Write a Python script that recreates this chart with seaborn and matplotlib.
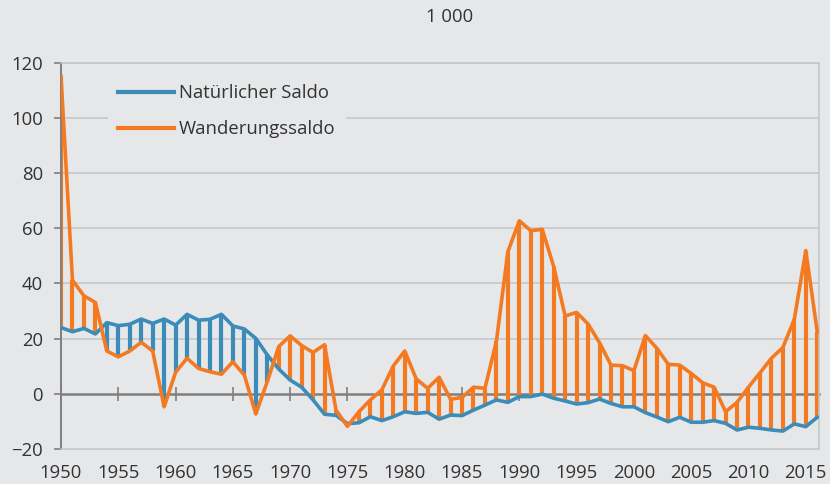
import pandas as pd
import numpy as np
import matplotlib.pyplot as plt
import seaborn as sns

# Werte in 1 000
jahre = list(range(1950, 2017))
natuerlich = [24.0, 22.5, 23.7, 21.7, 25.8, 24.7, 25.2, 27.1, 25.5, 27.1,
              24.9, 28.8, 26.7, 27.0, 28.8, 24.6, 23.5, 20.1, 14.1, 9.0,
              5.0, 2.4, -2.2, -7.4, -7.8, -10.8, -10.5, -8.3, -9.7, -8.3,
              -6.5, -7.1, -6.7, -9.2, -7.7, -7.9, -5.9, -4.1, -2.2, -3.1,
              -1.0, -1.0, -0.1, -1.6, -2.6, -3.7, -3.2, -1.9, -3.5, -4.7,
              -4.7, -6.8, -8.4, -10.1, -8.5, -10.3, -10.3, -9.7, -10.7, -13.1,
              -12.1, -12.5, -13.1, -13.5, -10.9, -11.9, -8.5]
wanderung = [115.0, 41.2, 35.5, 33.1, 15.5, 13.4, 15.5, 18.7, 15.5, -4.7,
             7.8, 12.9, 9.2, 8.0, 7.1, 11.6, 6.8, -7.3, 4.4, 17.1,
             21.0, 17.5, 15.0, 17.8, -5.9, -11.8, -6.5, -2.2, 1.4, 10.1,
             15.5, 5.4, 2.0, 6.0, -2.0, -1.3, 2.4, 2.0, 19.1, 51.5,
             62.7, 59.1, 59.6, 46.1, 28.2, 29.5, 25.3, 18.5, 10.4, 10.2,
             8.4, 21.1, 16.5, 10.7, 10.4, 7.4, 4.0, 2.4, -6.5, -3.1,
             2.4, 7.6, 12.9, 16.8, 27.0, 51.9, 22.5]

reihen = ['Natürlicher Saldo', 'Wanderungssaldo']
blau = '#3b8cb9'
orange = '#f47a22'
hintergrund = '#e6e7e9'
text_farbe = '#333333'
fs = 13.3

df = pd.DataFrame({'Jahr': jahre, reihen[0]: natuerlich, reihen[1]: wanderung})
df_long = df.melt(id_vars='Jahr', var_name='Reihe', value_name='Wert')

plt.rcParams['font.family'] = ['Open Sans', 'DejaVu Sans']

fig = plt.figure(figsize=(8.3, 4.84), dpi=100, facecolor=hintergrund)
ax = fig.add_axes([0.0735, 0.0723, 0.9132, 0.7982], facecolor=hintergrund)

# Verbindungslinien, gefärbt nach der jeweils größeren Reihe
oben = np.maximum(df[reihen[0]], df[reihen[1]])
unten = np.minimum(df[reihen[0]], df[reihen[1]])
farben = np.where(df[reihen[1]] >= df[reihen[0]], orange, blau)
ax.vlines(df['Jahr'], unten, oben, colors=farben, linewidth=3.0, zorder=2)

sns.lineplot(data=df_long, x='Jahr', y='Wert', hue='Reihe', palette=[blau, orange],
             linewidth=2.6, ax=ax, zorder=3)

ax.set_xlim(1950, 2016.15)
ax.set_ylim(-20, 120)
ax.set_yticks(range(-20, 121, 20))
ax.set_xticks(range(1950, 2016, 5))
ax.set_xlabel('')
ax.set_ylabel('')

# Gitterlinien
for y in range(20, 121, 20):
    ax.axhline(y, color='#c4c5c8', linewidth=1.1, zorder=0)

# Rahmen
for s in ['top', 'right', 'bottom']:
    ax.spines[s].set_color('#c4c5c8')
    ax.spines[s].set_linewidth(1.1)
ax.spines['left'].set_color('#7f7f7f')
ax.spines['left'].set_linewidth(1.4)
ax.tick_params(axis='y', length=5, width=1.2, color='#7f7f7f', labelsize=fs,
               labelcolor=text_farbe, pad=8)
ax.tick_params(axis='x', length=0, labelsize=fs, labelcolor=text_farbe, pad=11)

# Nulllinie mit Jahresmarken
null_achse = ax.secondary_xaxis(20 / 140)
null_achse.set_xticks(range(1950, 2016, 5))
null_achse.tick_params(axis='x', direction='inout', length=10, width=1.2,
                       color='#7f7f7f', labelbottom=False, labeltop=False)
null_achse.spines['bottom'].set_color('#7f7f7f')
null_achse.spines['bottom'].set_linewidth(1.8)
null_achse.spines['top'].set_visible(False)

leg = ax.legend(loc='upper left', bbox_to_anchor=(0.062, 0.97), frameon=True,
                facecolor=hintergrund, edgecolor=hintergrund, framealpha=1,
                fontsize=fs, handlelength=3.0, handletextpad=0.27,
                labelspacing=0.95, borderpad=0.55, borderaxespad=0)
for h in leg.get_lines():
    h.set_linewidth(3)
for t in leg.get_texts():
    t.set_color(text_farbe)
leg.set_zorder(1)

fig.text(0.542, 0.965, '1 000', ha='center', va='center', fontsize=fs, color=text_farbe)

plt.savefig('out.png', dpi=100, facecolor=hintergrund)
